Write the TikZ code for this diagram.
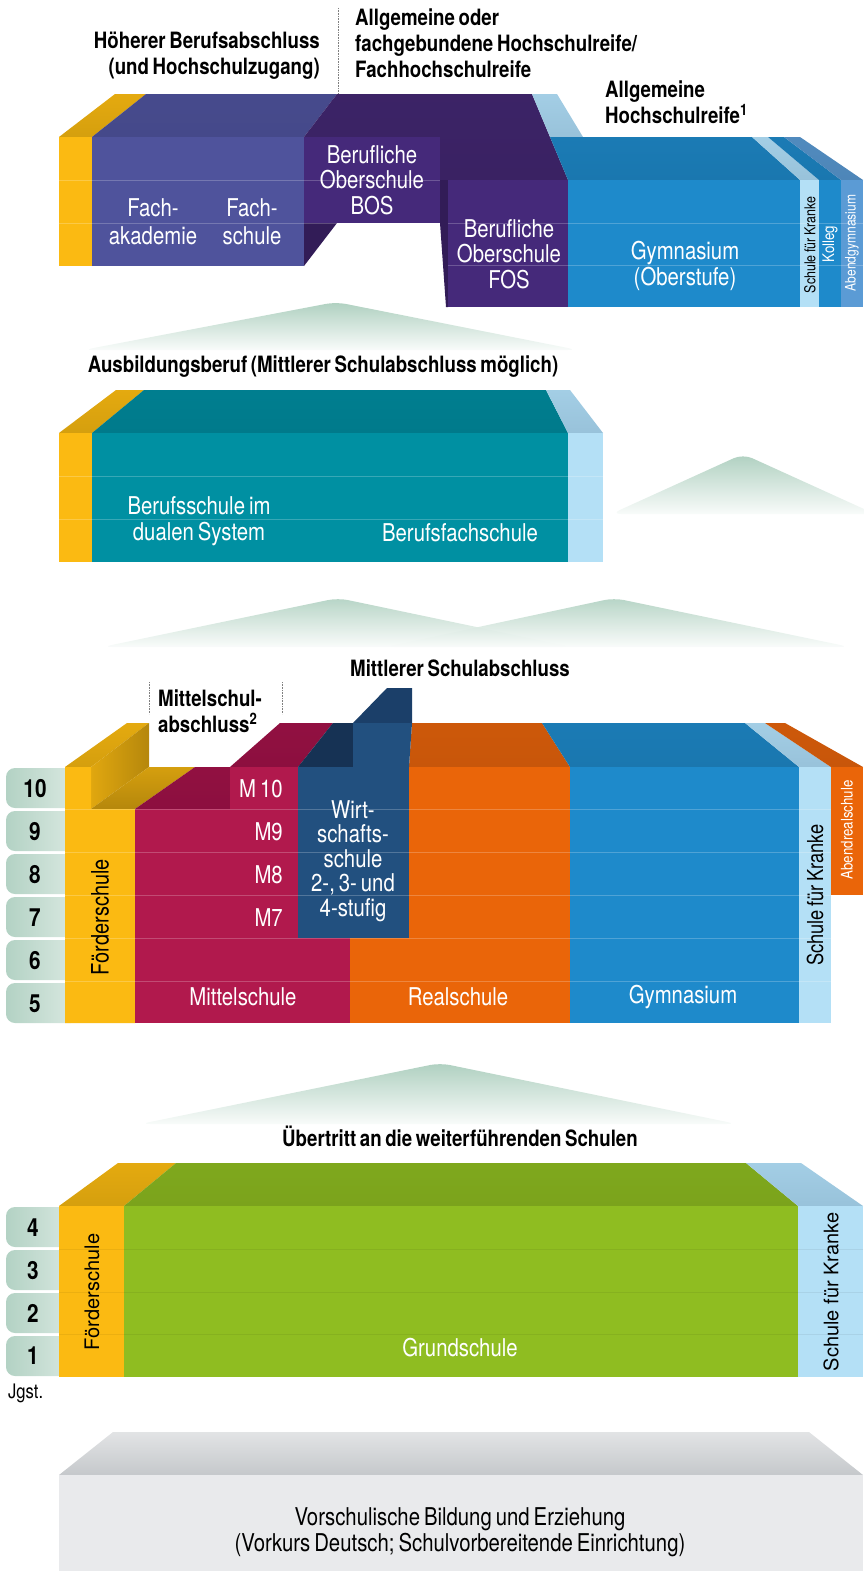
\documentclass[tikz,border=0pt]{standalone}
\usepackage{fontspec}
\setmainfont{TeX Gyre Heros}[FakeStretch=0.83, WordSpace=0.7]
\newfontfamily\widefont{TeX Gyre Heros}
\usepackage{tikz}
\usetikzlibrary{positioning}

\definecolor{yelF}{HTML}{FBBA12}
\definecolor{yelT}{HTML}{D59F0E}
\definecolor{fakF}{HTML}{4F539C}
\definecolor{fakT}{HTML}{45498A}
\definecolor{bosF}{HTML}{45297A}
\definecolor{bosT}{HTML}{3A2263}
\definecolor{bosS}{HTML}{321C57}
\definecolor{gymF}{HTML}{1E8ACB}
\definecolor{gymT}{HTML}{1A77AF}
\definecolor{khkF}{HTML}{B4E0F6}
\definecolor{khkT}{HTML}{98C2DA}
\definecolor{agyF}{HTML}{5B9BD5}
\definecolor{agyT}{HTML}{4E86B8}
\definecolor{tealF}{HTML}{0090A2}
\definecolor{tealT}{HTML}{007A8B}
\definecolor{msF}{HTML}{B1194D}
\definecolor{msT}{HTML}{8C0F3F}
\definecolor{rsF}{HTML}{EA6509}
\definecolor{rsT}{HTML}{C8560A}
\definecolor{wsF}{HTML}{22507F}
\definecolor{wsT}{HTML}{1B3F69}
\definecolor{gsF}{HTML}{8FBD21}
\definecolor{gsT}{HTML}{7BA31C}
\definecolor{vsF}{HTML}{E9EAEC}
\definecolor{vsT}{HTML}{C5C8CB}
\definecolor{pillA}{HTML}{B3D2C4}
\definecolor{pillB}{HTML}{DCEAE3}
\definecolor{mtn}{HTML}{AFD0C0}

\newcommand{\lblfont}{\fontsize{24.5}{25.5}\selectfont}
\newcommand{\headfont}{\bfseries\fontsize{22.5}{26}\selectfont}
\newcommand{\gradefont}{\bfseries\fontsize{25}{26}\selectfont}

\begin{document}
\begin{tikzpicture}[
        x=1pt, y=-1pt,
        lbl/.style={text=white, align=center, font=\lblfont, inner sep=0pt},
        head/.style={font=\headfont, inner sep=0pt},
        vtext/.style={rotate=90, inner sep=0pt},
        sep/.style={white, opacity=0.22, line width=0.9pt},
        pill/.style={left color=pillA, right color=pillB, rounded corners=9pt},
        grade/.style={font=\gradefont, inner sep=0pt},
        mountain/.style={top color=mtn, middle color=mtn, bottom color=mtn!8, rounded corners=10pt},
        dotline/.style={densely dotted, gray, line width=0.6pt}
    ]
        \useasboundingbox (0,0) rectangle (863,1571);

        % Mountains
        \shade[mountain] (83,350) -- (336,302) -- (578,350) -- cycle;
        \shade[mountain] (611,514) -- (743,454) -- (875,514) -- cycle;
        \shade[mountain, opacity=0.9] (102,647) -- (338,598) -- (572,647) -- cycle;
        \shade[mountain, opacity=0.9] (385,647) -- (614,598) -- (850,647) -- cycle;
        \shade[mountain] (140,1124) -- (440,1063) -- (737,1124) -- cycle;

        % Tertiary level: top faces
        \shade[top color=yelT!60!yelF, bottom color=yelT] (59,137) -- (115,94) -- (146,94) -- (92,137) -- cycle;
        \shade[top color=fakT!85!fakF, bottom color=fakT] (92,137) -- (146,94) -- (337,94) -- (304,137) -- cycle;
        \shade[top color=bosT!85!bosF, bottom color=bosT] (304,137) -- (337,94) -- (532,94) -- (568,180) -- (440,180) -- (440,137) -- cycle;
        \shade[top color=khkT!60!khkF, bottom color=khkT] (532,94) -- (557,94) -- (583,137) -- (550,137) -- cycle;
        \shade[top color=gymT!80!gymF, bottom color=gymT] (550,137) -- (752,137) -- (800,180) -- (568,180) -- cycle;
        \shade[top color=khkT!60!khkF, bottom color=khkT] (752,137) -- (768,137) -- (819,180) -- (800,180) -- cycle;
        \shade[top color=gymT!80!gymF, bottom color=gymT] (768,137) -- (784,137) -- (841,180) -- (819,180) -- cycle;
        \shade[top color=agyT!80!agyF, bottom color=agyT] (784,137) -- (800,137) -- (863,180) -- (841,180) -- cycle;

        % Tertiary level: front faces
        \fill[yelF] (59,137) rectangle (92,266);
        \fill[fakF] (92,137) rectangle (304,266);
        \fill[bosS] (304,223) -- (337,223) -- (304,266) -- cycle;
        \fill[bosF] (304,137) rectangle (440,223);
        \fill[bosS] (440,180) -- (448,180) -- (448,307) -- (446,307) -- (440,223) -- cycle;
        \fill[bosF] (448,180) rectangle (568,307);
        \fill[gymF] (568,180) rectangle (800,307);
        \fill[khkF] (800,180) rectangle (819,307);
        \fill[gymF] (819,180) rectangle (841,307);
        \fill[agyF] (841,180) rectangle (863,307);
        \draw[sep] (59,180) -- (440,180);
        \draw[sep] (59,223) -- (440,223);
        \draw[sep] (448,223) -- (863,223);
        \draw[sep] (448,265) -- (863,265);

        \node[lbl] (fak) at (153,222) {Fach-\\[2pt]akademie};
        \node[lbl] (fs) at (252,222) {Fach-\\[2pt]schule};
        \node[lbl] (bos) at (372,180) {Berufliche\\Oberschule\\BOS};
        \node[lbl] (fos) at (509,254) {Berufliche\\Oberschule\\FOS};
        \node[lbl] (gymo) at (685,266) {Gymnasium\\(Oberstufe)};
        \node[vtext, font=\fontsize{15}{16}\selectfont] (khko) at (810,245) {Schule für Kranke};
        \node[vtext, text=white, font=\fontsize{16}{17}\selectfont] (kolleg) at (830,244) {Kolleg};
        \node[vtext, text=white, font=\fontsize{14.5}{15}\selectfont] (abendgym) at (852,243) {Abendgymnasium};

        \node[head, anchor=east, align=right] (hba) at (320,56) {Höherer Berufsabschluss\\(und Hochschulzugang)};
        \node[head, anchor=west, align=left] (hsr) at (355,43) {Allgemeine oder\\fachgebundene Hochschulreife/\\Fachhochschulreife};
        \node[head, anchor=west, align=left] (ahr) at (605,102) {Allgemeine\\Hochschulreife\textsuperscript{1}};
        \coordinate (d1a) at (338,8);
        \coordinate (d1b) at (338,94);
        \draw[dotline] (d1a) -- (d1b);

        % Vocational training
        \node[head] (ausb) at (323,367) {Ausbildungsberuf (Mittlerer Schulabschluss möglich)};
        \shade[top color=yelT!60!yelF, bottom color=yelT] (59,433) -- (116,390) -- (144,390) -- (92,433) -- cycle;
        \shade[top color=tealT!80!tealF, bottom color=tealT] (92,433) -- (144,390) -- (546,390) -- (568,433) -- cycle;
        \shade[top color=khkT!60!khkF, bottom color=khkT] (568,433) -- (546,390) -- (570,390) -- (603,433) -- cycle;
        \fill[yelF] (59,433) rectangle (92,562);
        \fill[tealF] (92,433) rectangle (568,562);
        \fill[khkF] (568,433) rectangle (603,562);
        \draw[sep] (59,476) -- (603,476);
        \draw[sep] (59,519) -- (603,519);
        \node[lbl] (bsds) at (199,521) {Berufsschule im\\dualen System};
        \node[lbl] (bfs) at (460,533) {Berufsfachschule};

        % Secondary level
        \node[head] (msab) at (460,668) {Mittlerer Schulabschluss};
        \node[head, anchor=west, align=left] (mschab) at (158,711) {Mittelschul-\\abschluss\textsuperscript{2}};
        \coordinate (d2a) at (149,682);
        \coordinate (d2b) at (149,714);
        \coordinate (d3a) at (282,682);
        \coordinate (d3b) at (282,714);
        \draw[dotline] (d2a) -- (d2b);
        \draw[dotline] (d3a) -- (d3b);

        \shade[pill] (6,768) rectangle (80,808);
        \shade[pill] (6,811) rectangle (80,851);
        \shade[pill] (6,854) rectangle (80,894);
        \shade[pill] (6,897) rectangle (80,937);
        \shade[pill] (6,940) rectangle (80,980);
        \shade[pill] (6,983) rectangle (80,1023);
        \node[grade] (g10) at (35,789) {10};
        \node[grade] (g9) at (35,832) {9};
        \node[grade] (g8) at (35,875) {8};
        \node[grade] (g7) at (35,918) {7};
        \node[grade] (g6) at (35,961) {6};
        \node[grade] (g5) at (35,1004) {5};

        \shade[top color=yelT!60!yelF, bottom color=yelT] (65,767) -- (127,723) -- (149,723) -- (91,767) -- cycle;
        \shade[left color=yelT!70!yelF, right color=yelT!85!black] (91,767) -- (149,723) -- (149,767) -- (91,809) -- cycle;
        \shade[top color=yelT, bottom color=yelT!85!black] (91,809) -- (149,767) -- (195,767) -- (135,809) -- cycle;
        \fill[yelF] (65,767) -- (91,767) -- (91,809) -- (135,809) -- (135,1023) -- (65,1023) -- cycle;

        \shade[top color=msT!85!msF, bottom color=msT] (135,809) -- (195,767) -- (230,767) -- (230,809) -- cycle;
        \shade[top color=msT!85!msF, bottom color=msT] (230,767) -- (280,723) -- (333,723) -- (298,767) -- cycle;
        \fill[msF] (135,809) rectangle (350,1023);
        \fill[msF] (230,767) rectangle (298,809);

        \shade[top color=rsT!85!rsF, bottom color=rsT] (409,767) -- (412,723) -- (542,723) -- (570,767) -- cycle;
        \fill[rsF] (350,767) rectangle (570,1023);

        \fill[wsT!80!black] (298,767) -- (333,723) -- (353,723) -- (353,767) -- cycle;
        \fill[wsT] (353,723) -- (387,688) -- (412,688) -- (412,723) -- cycle;
        \fill[wsF] (353,723) -- (412,723) -- (409,767) -- (353,767) -- cycle;
        \fill[wsF] (298,767) rectangle (409,938);

        \shade[top color=gymT!80!gymF, bottom color=gymT] (542,723) -- (745,723) -- (799,767) -- (570,767) -- cycle;
        \fill[gymF] (570,767) rectangle (799,1023);
        \shade[top color=khkT!60!khkF, bottom color=khkT] (745,723) -- (765,723) -- (831,767) -- (799,767) -- cycle;
        \fill[khkF] (799,767) rectangle (831,1023);
        \shade[top color=rsT!85!rsF, bottom color=rsT] (765,723) -- (785,723) -- (863,767) -- (831,767) -- cycle;
        \fill[rsF] (831,767) rectangle (863,895);

        \draw[sep] (65,809) -- (831,809);
        \draw[sep] (65,852) -- (831,852);
        \draw[sep] (65,895) -- (831,895);
        \draw[sep] (65,938) -- (831,938);
        \draw[sep] (65,981) -- (831,981);

        \node[vtext, font=\fontsize{24}{25}\selectfont] (foes) at (100,917) {Förderschule};
        \node[lbl] (mittel) at (243,997) {Mittelschule};
        \node[lbl, anchor=east] (m10) at (283,789) {M\,10};
        \node[lbl, anchor=east] (m9) at (283,832) {M9};
        \node[lbl, anchor=east] (m8) at (283,875) {M8};
        \node[lbl, anchor=east] (m7) at (283,918) {M7};
        \node[lbl, font=\fontsize{24.5}{24.5}\selectfont] (wirt) at (353,861) {Wirt-\\schafts-\\schule\\2-, 3- und\\4-stufig};
        \node[lbl] (real) at (458,997) {Realschule};
        \node[lbl] (gym) at (683,997) {Gymnasium};
        \node[vtext, font=\fontsize{22}{23}\selectfont] (khks) at (815,895) {Schule für Kranke};
        \node[vtext, text=white, font=\fontsize{16}{17}\selectfont] (abendrs) at (847,830) {Abendrealschule};

        % Primary level
        \node[head] (uebertritt) at (460,1136) {Übertritt an die weiterführenden Schulen};
        \shade[pill] (6,1207) rectangle (80,1247);
        \shade[pill] (6,1250) rectangle (80,1290);
        \shade[pill] (6,1293) rectangle (80,1333);
        \shade[pill] (6,1336) rectangle (80,1376);
        \node[grade] (g4) at (33,1228) {4};
        \node[grade] (g3) at (33,1271) {3};
        \node[grade] (g2) at (33,1313) {2};
        \node[grade] (g1) at (33,1356) {1};

        \shade[top color=yelT!60!yelF, bottom color=yelT] (59,1206) -- (118,1163) -- (176,1163) -- (124,1206) -- cycle;
        \shade[top color=gsT!80!gsF, bottom color=gsT] (124,1206) -- (176,1163) -- (746,1163) -- (798,1206) -- cycle;
        \shade[top color=khkT!60!khkF, bottom color=khkT] (798,1206) -- (746,1163) -- (801,1163) -- (863,1206) -- cycle;
        \fill[yelF] (59,1206) rectangle (124,1377);
        \fill[gsF] (124,1206) rectangle (798,1377);
        \fill[khkF] (798,1206) rectangle (863,1377);
        \draw[black, opacity=0.06, line width=0.9pt] (59,1249) -- (863,1249);
        \draw[black, opacity=0.06, line width=0.9pt] (59,1292) -- (863,1292);
        \draw[black, opacity=0.06, line width=0.9pt] (59,1334) -- (863,1334);

        \node[vtext, font=\widefont\fontsize{20}{21}\selectfont] (foeg) at (92,1292) {Förderschule};
        \node[vtext, font=\widefont\fontsize{20}{21}\selectfont] (khkg) at (831,1292) {Schule für Kranke};
        \node[lbl] (grund) at (460,1348) {Grundschule};
        \node[anchor=west, inner sep=0pt, font=\fontsize{20}{21}\selectfont] (jgst) at (8,1393) {Jgst.};

        % Pre-school
        \shade[top color=vsT!50!white, bottom color=vsT] (59,1475) -- (113,1432) -- (809,1432) -- (863,1475) -- cycle;
        \fill[vsF] (59,1475) rectangle (863,1571);
        \node[align=center, inner sep=0pt, font=\lblfont] (vorsch) at (460,1532) {Vorschulische Bildung und Erziehung\\(Vorkurs Deutsch; Schulvorbereitende Einrichtung)};
    \end{tikzpicture}
\end{document}
